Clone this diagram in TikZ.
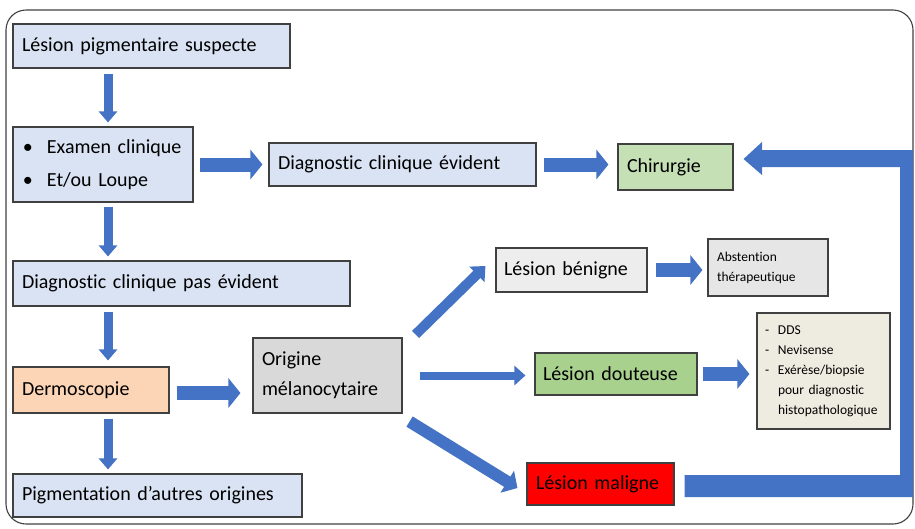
\documentclass[tikz,border=0pt]{standalone}
\usepackage{fontspec}
\setmainfont{Carlito}[Ligatures=NoCommon]
\usetikzlibrary{arrows.meta}
\definecolor{ablue}{HTML}{4472C4}
\definecolor{lblue}{HTML}{DAE3F3}
\definecolor{cgreen}{HTML}{C5E0B4}
\definecolor{peach}{HTML}{FBD5B5}
\definecolor{ogray}{HTML}{D9D9D9}
\definecolor{bgray}{HTML}{EDEDED}
\definecolor{agray}{HTML}{E7E6E6}
\definecolor{dgreen}{HTML}{A9D18E}
\definecolor{dbeige}{HTML}{EEECE1}
\definecolor{bord}{HTML}{404040}
\begin{document}
\begin{tikzpicture}[x=1pt,y=-1pt,
  bx/.style={draw=bord, line width=1.1pt, inner xsep=9pt, inner ysep=0pt, align=left,
    font=\fontsize{20}{30}\selectfont},
  sm/.style={font=\fontsize{13.5}{20}\selectfont},
  varr/.style={draw=ablue, line width=9pt, -{Triangle[width=18pt,length=11pt]}},
  harr/.style={draw=ablue, line width=14pt, -{Triangle[width=29pt,length=12pt]}},
  tarr/.style={draw=ablue, line width=8pt, -{Triangle[width=19pt,length=11pt]}},
  darr/.style={draw=ablue, line width=#1, -{Triangle[width=2.1*#1,length=12pt]}},
]
\useasboundingbox (0,0) rectangle (915,528);
\draw[bord, line width=1.1pt, rounded corners=20pt] (6,10) rectangle (913,524);

\node[bx, fill=lblue, minimum width=277pt, minimum height=44pt, text width=259pt] (n1) at (151.5,46) {Lésion pigmentaire suspecte};
\node[bx, fill=lblue, minimum width=180pt, minimum height=75pt, text width=160pt, inner xsep=10pt, font=\fontsize{20}{33}\selectfont] (n2) at (103,164.5) {\makebox[24pt][l]{\textbullet}Examen clinique\\\makebox[24pt][l]{\textbullet}Et/ou Loupe};
\node[bx, fill=lblue, minimum width=267pt, minimum height=43pt, text width=249pt] (n3) at (402.5,164.5) {Diagnostic clinique évident};
\node[bx, fill=cgreen, minimum width=115pt, minimum height=46pt, text width=97pt] (n4) at (675.5,167) {Chirurgie};
\node[bx, fill=lblue, minimum width=337pt, minimum height=45pt, text width=319pt] (n5) at (181.5,283.5) {Diagnostic clinique pas évident};
\node[bx, fill=peach, minimum width=156pt, minimum height=46pt, text width=138pt] (n6) at (91,390) {Dermoscopie};
\node[bx, fill=lblue, minimum width=289pt, minimum height=43pt, text width=271pt] (n7) at (157.5,495.5) {Pigmentation d’autres origines};
\node[bx, fill=ogray, minimum width=149pt, minimum height=75pt, text width=131pt] (n8) at (327.5,375.5) {Origine\\mélanocytaire};
\node[bx, fill=bgray, minimum width=151pt, minimum height=44pt, text width=135pt, inner xsep=8pt] (n9) at (571.5,270) {Lésion bénigne};
\node[bx, sm, fill=agray, minimum width=120pt, minimum height=57pt, text width=102pt] (n10) at (768,267.5) {Abstention\\thérapeutique};
\node[bx, fill=dgreen, minimum width=162pt, minimum height=42pt, text width=146pt, inner xsep=8pt] (n11) at (616,374) {Lésion douteuse};
\node[bx, sm, fill=dbeige, minimum width=133pt, minimum height=116pt, text width=117pt, inner xsep=8pt] (n12) at (823.5,371) {\makebox[13pt][l]{-}DDS\\\makebox[13pt][l]{-}Nevisense\\\makebox[13pt][l]{-}Exérèse/biopsie\\\hspace*{13pt}pour diagnostic\\\hspace*{13pt}histopathologique};
\node[bx, fill=red, minimum width=147pt, minimum height=42pt, text width=129pt] (n13) at (600.5,484) {Lésion maligne};

\coordinate (vx) at (108,0);
\draw[varr, shorten <=5pt, shorten >=4pt] (n1.south -| vx) -- (n2.north -| vx);
\draw[varr, shorten <=4pt, shorten >=4pt] (n2.south -| vx) -- (n5.north -| vx);
\draw[varr, shorten <=5pt, shorten >=6pt] (n5.south -| vx) -- (n6.north -| vx);
\draw[varr, shorten <=5pt, shorten >=4pt] (n6.south -| vx) -- (n7.north -| vx);

\draw[harr, shorten <=6pt, shorten >=6pt] (n2.east) -- (n3.west);
\draw[harr, shorten <=7pt, shorten >=9pt] (n3.east) -- (n4.west |- n3.east);
\draw[harr, shorten <=7pt, shorten >=12pt] ([yshift=-3pt]n6.east) -- ([yshift=-3pt]n8.west |- n6.east);
\draw[harr, shorten <=8pt, shorten >=5pt] (n9.east) -- (n10.west |- n9.east);
\draw[harr, shorten <=5pt, shorten >=7pt] (n11.east) -- (n12.west |- n11.east);
\draw[tarr, shorten <=17pt, shorten >=9pt] (n8.east) -- (n11.west |- n8.east);
\draw[darr=10pt] ([shift={(13,-3)}]n8.north east) -- ([shift={(-10,-4)}]n9.west);
\draw[darr=12pt] ([shift={(7,8)}]n8.south east) -- ([shift={(-9,4)}]n13.west);

\coordinate (bstart) at ([xshift=10pt]n13.east);
\coordinate (btip) at ([shift={(10,-8)}]n4.east);
\fill[ablue] (bstart |- 0,475) -- (900,475) -- (900,167) -- (762,167) -- (762,175) -- (btip) -- (762,142) -- (762,150) -- (913,150) -- (913,497) -- (bstart |- 0,497) -- cycle;
\end{tikzpicture}
\end{document}
